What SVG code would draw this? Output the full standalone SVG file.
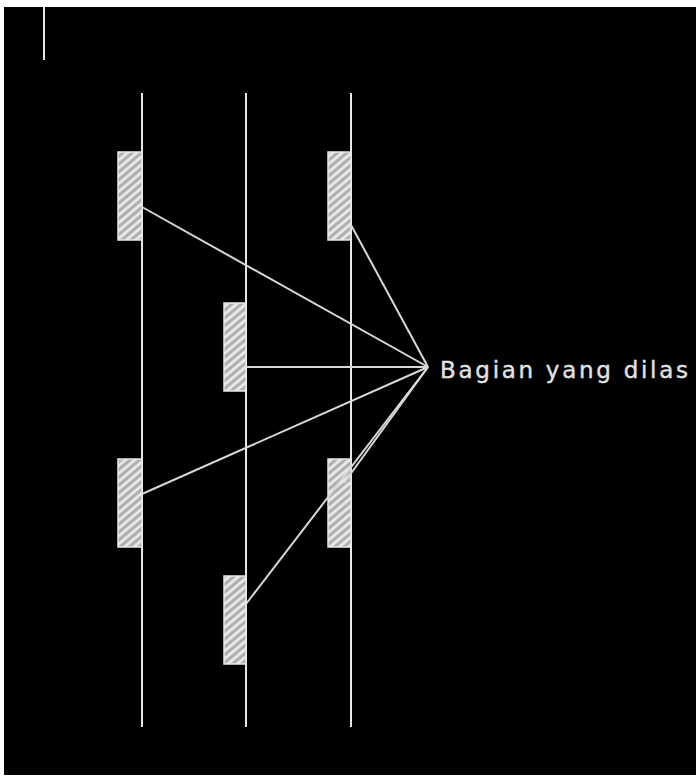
<svg xmlns="http://www.w3.org/2000/svg" width="697" height="776" viewBox="0 0 697 776">
  <defs>
    <pattern id="hatch" patternUnits="userSpaceOnUse" width="6" height="6" patternTransform="rotate(-40)">
      <rect width="6" height="6" fill="#c8c8c8"/>
      <line x1="0" y1="1" x2="6" y2="1" stroke="#f2f2f2" stroke-width="1.8"/>
      <line x1="0" y1="4" x2="6" y2="4" stroke="#909090" stroke-width="1"/>
    </pattern>
  </defs>
  <style>
    .rail { stroke: #e6e6e6; stroke-width: 2; fill: none; }
    .weld { fill: url(#hatch); stroke: #e8e8e8; stroke-width: 1.5; }
    .leader { stroke: #d8d8d8; stroke-width: 2; fill: none; }
    .label { font-family: "DejaVu Sans", "Liberation Sans", sans-serif; font-size: 23px; fill: #e2e2e2; stroke: #e2e2e2; stroke-width: 0.4; }
  </style>
  <rect x="0" y="0" width="697" height="776" fill="#ffffff"/>
  <rect x="4" y="7" width="692" height="768" fill="#000000"/>
  <line class="rail" x1="44" y1="7" x2="44" y2="60"/>
  <g id="rails">
    <line class="rail" x1="142" y1="93" x2="142" y2="727"/>
    <line class="rail" x1="246" y1="93" x2="246" y2="727"/>
    <line class="rail" x1="351" y1="93" x2="351" y2="727"/>
  </g>
  <g id="weld1"><rect class="weld" x="118" y="152" width="24" height="88"/></g>
  <g id="weld2"><rect class="weld" x="224" y="303" width="22" height="88"/></g>
  <g id="weld3"><rect class="weld" x="328" y="152" width="23" height="88"/></g>
  <g id="weld4"><rect class="weld" x="118" y="459" width="24" height="88"/></g>
  <g id="weld5"><rect class="weld" x="328" y="459" width="23" height="88"/></g>
  <g id="weld6"><rect class="weld" x="224" y="576" width="22" height="88"/></g>
  <g id="connectors">
    <line class="leader" x1="142" y1="207" x2="428" y2="367"/>
    <line class="leader" x1="351" y1="225" x2="428" y2="367"/>
    <line class="leader" x1="246" y1="367" x2="428" y2="367"/>
    <line class="leader" x1="142" y1="494" x2="428" y2="367"/>
    <line class="leader" x1="344" y1="483" x2="428" y2="367"/>
    <line class="leader" x1="246" y1="604" x2="428" y2="367"/>
  </g>
  <g id="label">
    <text class="label" x="440" y="378" textLength="248" lengthAdjust="spacing">Bagian yang dilas</text>
  </g>
</svg>
